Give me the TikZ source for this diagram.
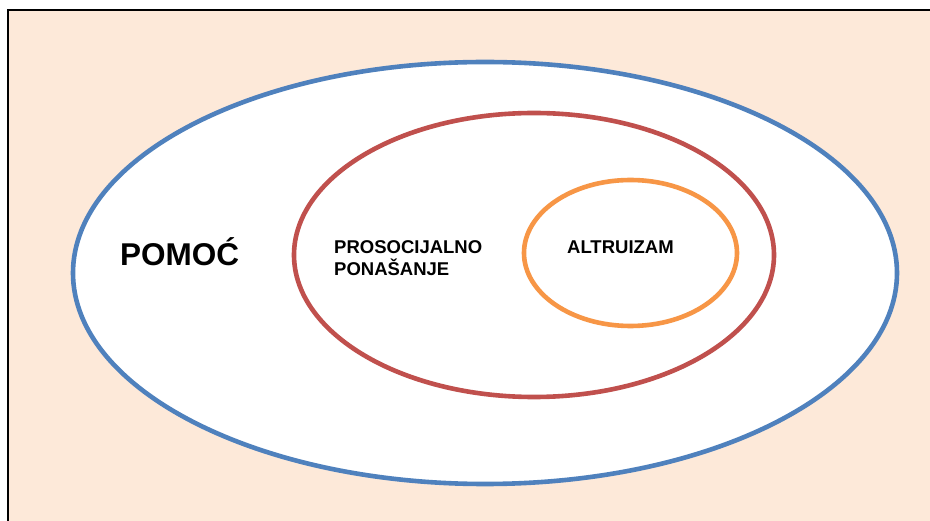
\documentclass[tikz,border=0pt]{standalone}
\usepackage{fontspec}
\setmainfont{Liberation Sans}
\definecolor{peach}{HTML}{FDE9D9}
\definecolor{pomocblue}{HTML}{4F81BD}
\definecolor{prosred}{HTML}{C0504D}
\definecolor{altorange}{HTML}{F79646}
\tikzset{
  ring/.style={line width=4.6pt},
  lbl/.style={inner sep=0pt,anchor=base west,font=\fontsize{18.5}{22}\selectfont\bfseries,align=left}
}
\begin{document}
\begin{tikzpicture}[x=1pt,y=-1pt]
			\useasboundingbox (0,0) rectangle (930,521);
			\clip (0,0) rectangle (930,521);
			\fill[white] (0,0) rectangle (930,521);
			\draw[line width=2pt,fill=peach] (8.3,10.3) rectangle (945,535);
			% sets
			\draw[ring,draw=pomocblue,fill=white] (485,273) ellipse[x radius=412,y radius=211];
			\draw[ring,draw=prosred] (534,255) ellipse[x radius=240,y radius=142];
			\draw[ring,draw=altorange] (630.5,253) ellipse[x radius=106.5,y radius=73];
			% labels
			\node[lbl,font=\fontsize{31.5}{36}\selectfont\bfseries] (pomoc) at (120,266) {POMOĆ};
			\node[lbl] (prosocijalno) at (334,276) {PROSOCIJALNO\\PONAŠANJE};
			\node[lbl] (altruizam) at (567,254) {ALTRUIZAM};
\end{tikzpicture}
\end{document}
